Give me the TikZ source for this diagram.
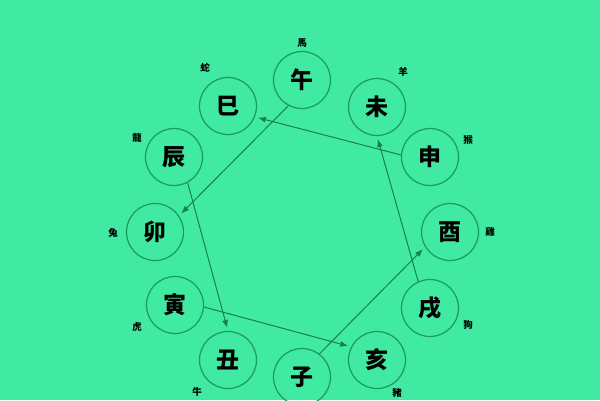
\documentclass[tikz,border=0pt]{standalone}
\usepackage{fontspec}
\usetikzlibrary{arrows.meta}
\newfontfamily\cjk{Noto Sans CJK TC}
\definecolor{bggreen}{HTML}{40EAA2}
\definecolor{ringgreen}{HTML}{1A9A5C}
\definecolor{linkgreen}{HTML}{17804C}
\begin{document}
\begin{tikzpicture}[x=1pt,y=-1pt]
\tikzstyle{branch}=[circle, draw=ringgreen, line width=1.2pt, minimum size=57pt, inner sep=0pt, font=\cjk\bfseries\fontsize{23}{23}\selectfont]
\tikzstyle{animal}=[inner sep=0pt, font=\cjk\bfseries\fontsize{9.5}{9.5}\selectfont]
\tikzstyle{link}=[draw=linkgreen, line width=1pt, -{Latex[length=8pt,width=6pt]}, shorten >=3pt]
\fill [bggreen] (0,0) rectangle (600,400);
\useasboundingbox (0,0) rectangle (600,400);
\node [branch] (wu) at (302,80) {午};
\node [branch] (wei) at (377,107) {未};
\node [branch] (shen) at (430,157) {申};
\node [branch] (you) at (450,232) {酉};
\node [branch] (xu) at (430,308) {戌};
\node [branch] (hai) at (377,360) {亥};
\node [branch] (zi) at (302,377) {子};
\node [branch] (chou) at (228,360) {丑};
\node [branch] (yin) at (175,305) {寅};
\node [branch] (mao) at (155,232) {卯};
\node [branch] (chen) at (174,157) {辰};
\node [branch] (si) at (228,106) {巳};
\node [animal] (ma) at (302,43) {馬};
\node [animal] (yang) at (403,72) {羊};
\node [animal] (hou) at (468,140) {猴};
\node [animal] (ji) at (490,232) {雞};
\node [animal] (gou) at (468,325) {狗};
\node [animal] (zhu) at (397,393) {豬};
\node [animal] (niu) at (197,392) {牛};
\node [animal] (hu) at (137,327) {虎};
\node [animal] (tu) at (113,233) {兔};
\node [animal] (long) at (137,138) {龍};
\node [animal] (she) at (205,68) {蛇};
\draw [link] (wu.242) -- (mao.34);
\draw [link] (shen.176) -- (si.338);
\draw [link] (chen.298) -- (chou.90);
\draw [link] (xu.114) -- (wei.270);
\draw [link] (yin.356) -- (hai.153);
\draw [link] (zi.53) -- (you.211);
\end{tikzpicture}
\end{document}
